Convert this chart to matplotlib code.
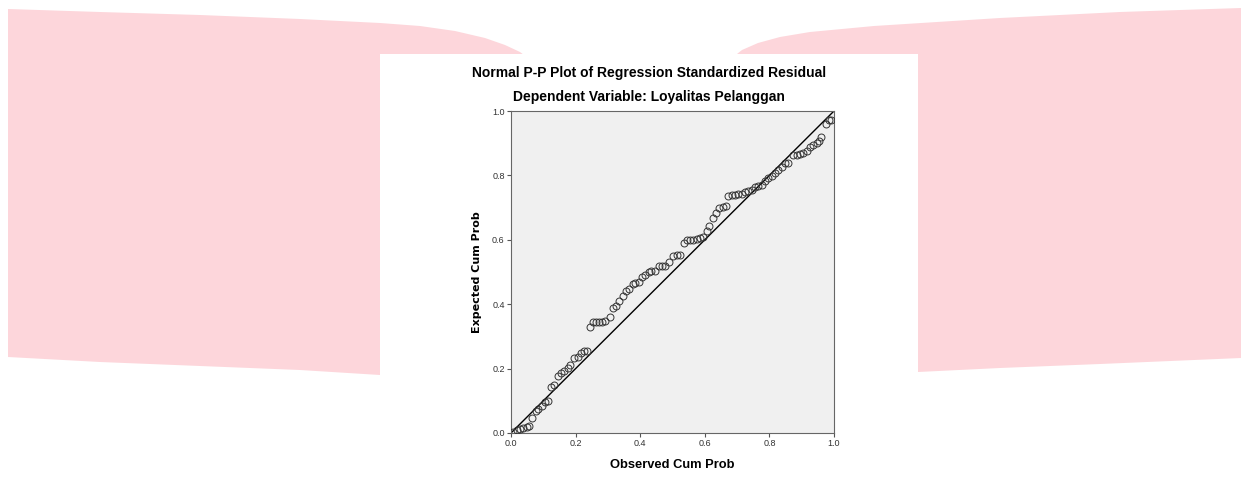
import matplotlib.pyplot as plt
from matplotlib.patches import Polygon, Rectangle

# observed vs expected cumulative probability
observed = [0.006, 0.019, 0.028, 0.037, 0.050, 0.056, 0.065, 0.077, 0.084, 0.096,
            0.105, 0.115, 0.124, 0.133, 0.146, 0.155, 0.164, 0.176, 0.183, 0.195,
            0.207, 0.217, 0.226, 0.235, 0.245, 0.254, 0.263, 0.272, 0.282, 0.291,
            0.307, 0.316, 0.325, 0.334, 0.347, 0.356, 0.365, 0.378, 0.384, 0.396,
            0.406, 0.415, 0.427, 0.433, 0.446, 0.458, 0.467, 0.477, 0.489, 0.502,
            0.514, 0.523, 0.536, 0.545, 0.554, 0.563, 0.576, 0.585, 0.594, 0.607,
            0.613, 0.625, 0.635, 0.644, 0.656, 0.666, 0.672, 0.684, 0.693, 0.703,
            0.715, 0.724, 0.734, 0.746, 0.755, 0.765, 0.777, 0.786, 0.796, 0.808,
            0.817, 0.827, 0.839, 0.848, 0.858, 0.873, 0.885, 0.895, 0.904, 0.916,
            0.926, 0.935, 0.947, 0.954, 0.960, 0.975, 0.985, 0.991]
expected = [0.003, 0.009, 0.012, 0.016, 0.019, 0.022, 0.047, 0.068, 0.075, 0.084,
            0.096, 0.099, 0.143, 0.149, 0.177, 0.186, 0.193, 0.202, 0.211, 0.233,
            0.236, 0.248, 0.255, 0.255, 0.329, 0.345, 0.345, 0.345, 0.345, 0.348,
            0.360, 0.388, 0.394, 0.410, 0.425, 0.441, 0.447, 0.463, 0.466, 0.469,
            0.484, 0.491, 0.500, 0.503, 0.503, 0.519, 0.519, 0.519, 0.531, 0.550,
            0.553, 0.553, 0.590, 0.599, 0.599, 0.599, 0.602, 0.606, 0.609, 0.627,
            0.643, 0.668, 0.683, 0.699, 0.702, 0.705, 0.736, 0.739, 0.739, 0.742,
            0.742, 0.748, 0.752, 0.755, 0.764, 0.767, 0.770, 0.783, 0.792, 0.798,
            0.807, 0.817, 0.826, 0.839, 0.839, 0.863, 0.863, 0.866, 0.870, 0.876,
            0.888, 0.894, 0.901, 0.907, 0.919, 0.960, 0.972, 0.972]
ticks = [0.0, 0.2, 0.4, 0.6, 0.8, 1.0]
tick_labels = ["0.0", "0.2", "0.4", "0.6", "0.8", "1.0"]

plt.rcParams['font.family'] = ['Liberation Sans', 'DejaVu Sans']

W, H = 1246, 496
fig = plt.figure(figsize=(W / 100, H / 100), dpi=100)

# background decoration in pixel coordinates
bg = fig.add_axes([0, 0, 1, 1])
bg.set_xlim(0, W)
bg.set_ylim(H, 0)
bg.axis('off')
pink = '#fdd6db'
left_shape = [(8, 9), (100, 12), (200, 15), (300, 19), (380, 23), (420, 26), (455, 31),
              (485, 38), (505, 45), (520, 52), (528, 58), (528, 376), (380, 375),
              (300, 370), (200, 366), (100, 362), (8, 357)]
right_shape = [(732, 58), (742, 50), (758, 43), (780, 37), (810, 32), (874, 26),
               (1000, 18), (1120, 12), (1241, 8), (1241, 358), (1100, 364),
               (1000, 368), (918, 372), (732, 374)]
bg.add_patch(Polygon(left_shape, closed=True, color=pink, lw=0))
bg.add_patch(Polygon(right_shape, closed=True, color=pink, lw=0))
bg.add_patch(Polygon([(610, 484), (648, 484), (629, 500)], closed=True, color=pink, lw=0))
bg.add_patch(Rectangle((380, 54), 538, 450, color='white', lw=0))

ax = fig.add_axes([511 / W, 63 / H, 323 / W, 322 / H])
ax.set_facecolor('#f0f0f0')
ax.plot([0, 1], [0, 1], color='black', lw=1, zorder=2)
ax.plot(observed, expected, 'o', ms=5, mfc='none', mec='#333333', mew=0.7, zorder=3)
ax.set_xlim(0, 1)
ax.set_ylim(0, 1)
ax.set_xticks(ticks)
ax.set_xticklabels(tick_labels)
ax.set_yticks(ticks)
ax.set_yticklabels(tick_labels)
ax.tick_params(length=3, width=0.8, colors='#555555', labelsize=6.5, labelcolor='#333333', pad=1.5)
for s in ax.spines.values():
    s.set_color('#666666')
    s.set_linewidth(0.8)

ax.set_xlabel("Observed Cum Prob", fontsize=9.3, fontweight='bold', labelpad=8)
ax.set_ylabel("Expected Cum Prob", fontsize=8, fontweight='bold', labelpad=7,
              family=['DejaVu Sans'])

fig.text(649 / W, 1 - 73 / H, "Normal P-P Plot of Regression Standardized Residual",
         ha='center', va='center', fontsize=10, fontweight='bold')
fig.text(649 / W, 1 - 97 / H, "Dependent Variable: Loyalitas Pelanggan",
         ha='center', va='center', fontsize=10, fontweight='bold')

fig.savefig("out.png", dpi=100)
